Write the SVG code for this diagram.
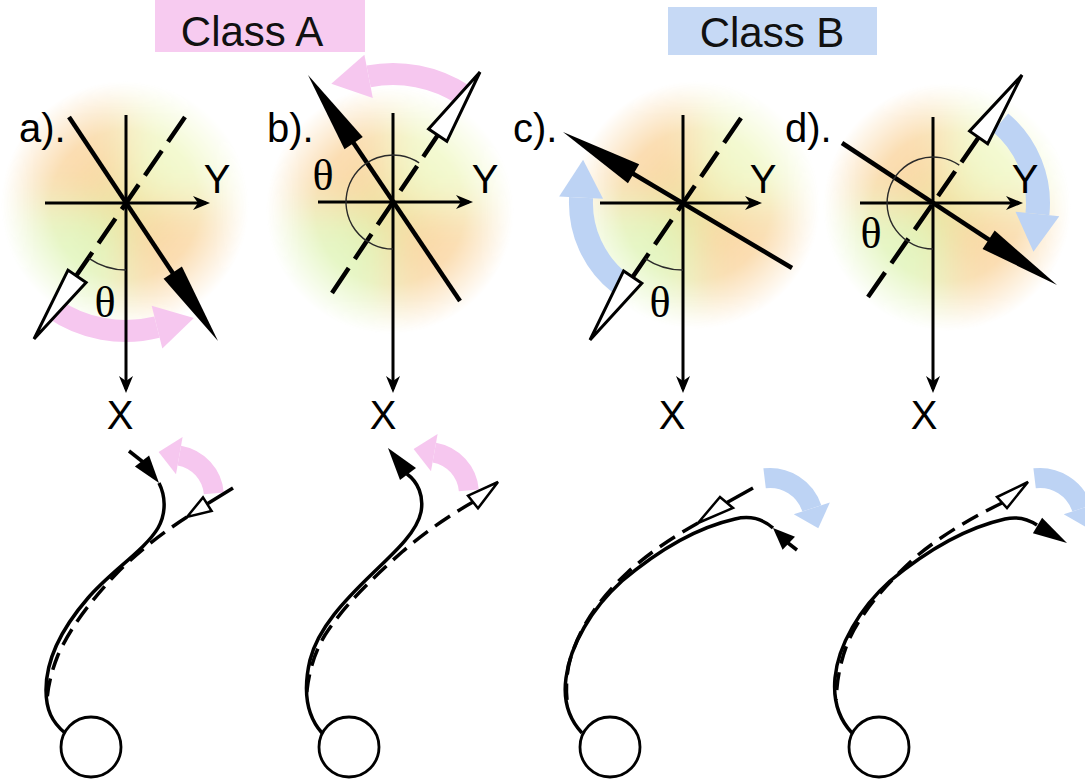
<svg xmlns="http://www.w3.org/2000/svg" xmlns:xlink="http://www.w3.org/1999/xlink" width="1085" height="781" viewBox="0 0 1085 781">
<defs>
<style>
.ax{fill:none;stroke:#000;stroke-width:3;marker-end:url(#ah)}
.sl{fill:none;stroke:#000;stroke-width:4.5}
.dl{fill:none;stroke:#000;stroke-width:4.5;stroke-dasharray:30 11}
.th{fill:none;stroke:#2a2a2a;stroke-width:1.4}
.lbl{font-family:"Liberation Sans",Arial,sans-serif;font-size:40px;fill:#000}
.tht{font-family:"Liberation Serif","Times New Roman",serif;font-size:44px;fill:#000;text-anchor:middle}
.cls{font-family:"Liberation Sans",Arial,sans-serif;font-size:42px;fill:#111;text-anchor:middle}
.pk{fill:none;stroke:#f6c7ef;stroke-width:22}
.bl{fill:none;stroke:#bdd3f4;stroke-width:24}
.pkh{fill:#f6c7ef}
.blh{fill:#bdd3f4}
.bs{fill:none;stroke:#000;stroke-width:3.5}
.bd{fill:none;stroke:#000;stroke-width:3.5;stroke-dasharray:18 9}
.ot{fill:#fff;stroke:#000;stroke-width:2.5}
.head{fill:none;stroke:#000;stroke-width:2.8}
</style>
<marker id="ah" viewBox="-18 -8 19 16" markerWidth="19" markerHeight="16" refX="-4" refY="0" orient="auto" markerUnits="userSpaceOnUse"><path d="M0,0 L-17,-7 L-12,0 L-17,7 Z" fill="#000"/></marker>
<path id="fa" d="M0,0 L-82,-11 L-82,11 Z" fill="#000"/>
<path id="oa" d="M0,0 L-76,-11 L-76,11 Z" fill="#fff" stroke="#000" stroke-width="3"/>
<path id="pah" d="M38,0 L0,-22 L0,22 Z"/>
<path id="sah" d="M21,0 L0,-19 L0,19 Z"/>
<radialGradient id="fadeG"><stop offset="0" stop-color="#fff" stop-opacity="1"/><stop offset="0.6" stop-color="#fff" stop-opacity="0.7"/><stop offset="1" stop-color="#fff" stop-opacity="0"/></radialGradient>
<mask id="fadeM" maskUnits="userSpaceOnUse" x="-140" y="-140" width="280" height="280"><circle r="124" fill="url(#fadeG)"/></mask>
<filter id="soft" x="-30%" y="-30%" width="160%" height="160%"><feGaussianBlur stdDeviation="22"/></filter>
<g id="disc">
<g mask="url(#fadeM)"><g filter="url(#soft)">
<path d="M0,0 H-140 V-140 H0 Z" fill="#f9cf92"/>
<path d="M0,0 V-140 H140 V0 Z" fill="#eef7bd"/>
<path d="M0,0 H-140 V140 H0 Z" fill="#dcf3ae"/>
<path d="M0,0 V140 H140 V0 Z" fill="#f9cf92"/>
</g></g>
</g>
</defs>
<rect width="1085" height="781" fill="#fff"/>

<g id="classA">
<rect x="155" y="0" width="210" height="52" fill="#f7cbf0"/>
<text class="cls" x="252" y="46">Class A</text>
</g>
<g id="classB">
<rect x="668" y="7" width="209" height="48" fill="#c6d9f5"/>
<text class="cls" x="772" y="47">Class B</text>
</g>

<g id="panel-a">
<use xlink:href="#disc" x="125" y="205"/>
<path class="pk" d="M52.6,307.9 A128,128 0 0 0 157,327.2"/>
<use xlink:href="#pah" class="pkh" transform="translate(157,327.2) rotate(-14)"/>
<path class="ax" d="M45,203 H206"/>
<path class="ax" d="M126,115 V389"/>
<path class="dl" d="M185,117 L74,279"/>
<path class="sl" d="M69,117 L190,299"/>
<use xlink:href="#fa" transform="translate(218,341) rotate(56.5)"/>
<use xlink:href="#oa" transform="translate(34,339) rotate(124.5)"/>
<path class="th" d="M88.9,258.3 A67,67 0 0 0 126,270"/>
<text class="tht" x="105" y="317">θ</text>
<text class="lbl" x="19" y="142">a).</text>
<text class="lbl" x="217" y="193" text-anchor="middle">Y</text>
<text class="lbl" x="120" y="429" text-anchor="middle">X</text>
</g>

<g id="panel-b">
<use xlink:href="#disc" x="390" y="210"/>
<path class="pk" d="M462.7,94.6 A128,128 0 0 0 368.6,76.4"/>
<use xlink:href="#pah" class="pkh" transform="translate(368.6,76.4) rotate(169)"/>
<path class="ax" d="M318,202 H469"/>
<path class="ax" d="M393,113 V389"/>
<path class="dl" d="M332,293 L439.7,132.2"/>
<path class="sl" d="M460,301 L334.6,114.7"/>
<use xlink:href="#fa" transform="translate(308,75) rotate(-123.8)"/>
<use xlink:href="#oa" transform="translate(480,72) rotate(-56.2)"/>
<path class="th" d="M419.1,162.9 A47,47 0 1 0 393,249"/>
<text class="tht" x="323" y="190">θ</text>
<text class="lbl" x="267" y="142">b).</text>
<text class="lbl" x="485" y="193" text-anchor="middle">Y</text>
<text class="lbl" x="383" y="429" text-anchor="middle">X</text>
</g>

<g id="panel-c">
<use xlink:href="#disc" x="696" y="205"/>
<path class="bl" d="M620.2,283.4 A102,102 0 0 1 581.1,197.7"/>
<use xlink:href="#pah" class="blh" transform="translate(581.1,197.7) rotate(-87)"/>
<path class="ax" d="M600,203 H758"/>
<path class="ax" d="M683,115 V389"/>
<path class="dl" d="M741,118 L630.4,280.4"/>
<path class="sl" d="M792,268 L583,144"/>
<use xlink:href="#fa" transform="translate(563,132) rotate(-149.4)"/>
<use xlink:href="#oa" transform="translate(590,340) rotate(124.2)"/>
<path class="th" d="M645.3,258.6 A67,67 0 0 0 683,270"/>
<text class="tht" x="660" y="317">θ</text>
<text class="lbl" x="513" y="142">c).</text>
<text class="lbl" x="763" y="193" text-anchor="middle">Y</text>
<text class="lbl" x="672" y="429" text-anchor="middle">X</text>
</g>

<g id="panel-d">
<use xlink:href="#disc" x="947" y="207"/>
<path class="bl" d="M1000.5,122.6 A105,105 0 0 1 1037.4,214"/>
<use xlink:href="#pah" class="blh" transform="translate(1037.4,214) rotate(96)"/>
<path class="ax" d="M860,203 H1019"/>
<path class="ax" d="M933,117 V389"/>
<path class="dl" d="M868,297 L981,134"/>
<path class="sl" d="M842,143 L1035,270"/>
<use xlink:href="#fa" transform="translate(1057,285) rotate(33.5)"/>
<use xlink:href="#oa" transform="translate(1022,75) rotate(-55.2)"/>
<path class="th" d="M959.3,165.2 A46,46 0 1 0 933,249"/>
<text class="tht" x="871" y="248">θ</text>
<text class="lbl" x="785" y="142">d).</text>
<text class="lbl" x="1025" y="193" text-anchor="middle">Y</text>
<text class="lbl" x="924" y="429" text-anchor="middle">X</text>
</g>

<g id="cell-a">
<path class="pk" style="stroke-width:20" d="M213.8,493.3 A42,42 0 0 0 179.3,455.6"/>
<use xlink:href="#sah" class="pkh" transform="translate(179.3,455.6) rotate(190)"/>
<circle class="head" cx="91" cy="747" r="30"/>
<path class="bd" d="M187,517 C165,531 140,550 118,572 C95,596 72,624 58,655 C52,670 48,685 47,700"/>
<path class="bs" d="M159,483 C165,495 167,512 158,528 C145,550 110,572 88,598 C62,628 46,660 46,690 C46,710 52,722 65,733"/>
<path class="bs" d="M129,451 L143,462"/>
<polygon points="159,483 149.1,455.5 134.9,466.5" fill="#000"/>
<path class="bs" d="M233,488 L207,504"/>
<polygon class="ot" points="187,517 203,497.4 211.6,511"/>
</g>

<g id="cell-b">
<path class="pk" style="stroke-width:20" d="M468.8,490.3 A42,42 0 0 0 434.3,452.6"/>
<use xlink:href="#sah" class="pkh" transform="translate(434.3,452.6) rotate(190)"/>
<circle class="head" cx="349" cy="747" r="30"/>
<path class="bd" d="M473,502 C450,515 425,532 402,552 C375,576 345,604 325,635 C313,655 308,675 306,700"/>
<path class="bs" d="M407,474 C418,482 424,496 421,512 C417,532 395,552 373,573 C345,600 318,628 310,660 C303,690 306,715 322,733"/>
<polygon points="388,448 416,468 400,480" fill="#000"/>
<polygon class="ot" points="498,482 468,495.7 478,508.3"/>
</g>

<g id="cell-c">
<path class="bl" style="stroke-width:20" d="M764.6,478.3 A44,44 0 0 1 811.8,508.4"/>
<use xlink:href="#sah" class="blh" transform="translate(811.8,508.4) rotate(72)"/>
<circle class="head" cx="610" cy="747" r="30"/>
<path class="bd" d="M698,523 C675,536 650,552 628,572 C602,596 580,625 570,660 C566,675 566,690 567,700"/>
<path class="bs" d="M582,733 C568,718 563,700 566,678 C570,645 592,608 622,581 C655,553 695,528 735,519 C752,515 764,520 773,528"/>
<polygon points="773,528 795,536.8 782.6,549.8" fill="#000"/>
<path class="bs" d="M788,543 L797,550"/>
<path class="bs" d="M753,488 L727,502.5"/>
<polygon class="ot" points="698,523 720,497 733,508"/>
</g>

<g id="cell-d">
<path class="bl" style="stroke-width:20" d="M1034.6,478.3 A44,44 0 0 1 1081.8,508.4"/>
<use xlink:href="#sah" class="blh" transform="translate(1081.8,508.4) rotate(72)"/>
<circle class="head" cx="879" cy="747" r="30"/>
<path class="bd" d="M1002,503 C975,516 945,533 918,555 C890,580 862,610 848,642 C840,662 837,680 836,700"/>
<path class="bs" d="M852,733 C838,718 833,700 835,678 C838,645 860,608 890,581 C925,552 965,528 1005,519 C1018,516 1028,519 1037,525"/>
<polygon points="1067,543 1042.1,517.8 1032.9,533.2" fill="#000"/>
<polygon class="ot" points="1028,482 997,497 1007,508"/>
</g>
</svg>
